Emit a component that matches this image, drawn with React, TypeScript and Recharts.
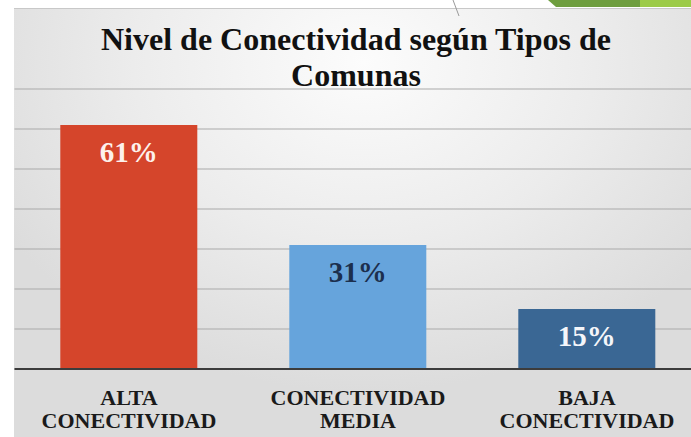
import { Bar, BarChart, CartesianGrid, Cell, LabelList, XAxis, YAxis } from 'recharts';

const categories = ['ALTA\nCONECTIVIDAD', 'CONECTIVIDAD\nMEDIA', 'BAJA\nCONECTIVIDAD'];
const values = [61, 31, 15];
const barColors = ['#d5452b', '#66a4dc', '#3a6794'];
const labelColors = ['#fdf1ec', '#1c2f4d', '#f4f6fa'];
const yTicks = [0, 10, 20, 30, 40, 50, 60, 70];

const data = categories.map((name, i) => ({ name, value: values[i] }));

const serif = '"Liberation Serif", serif';

function CategoryTick({ x, y, payload }: any) {
  const lines = String(payload.value).split('\n');
  return (
    <text
      x={x}
      y={y}
      textAnchor="middle"
      fontFamily={serif}
      fontWeight="bold"
      fontSize={22}
      fill="#1a1a1a"
    >
      {lines.map((line, i) => (
        <tspan key={i} x={x} y={y + 28 + i * 23}>
          {line}
        </tspan>
      ))}
    </text>
  );
}

function ValueLabel({ x, y, width, value, index }: any) {
  return (
    <text
      x={x + width / 2}
      y={y + 37}
      textAnchor="middle"
      fontFamily={serif}
      fontWeight="bold"
      fontSize={29}
      fill={labelColors[index]}
    >
      {value}%
    </text>
  );
}

export default function App() {
  return (
    <div
      style={{
        position: 'absolute',
        left: 0,
        top: 0,
        width: 691,
        height: 437,
        overflow: 'hidden',
        background: '#ffffff',
      }}
    >
      <div
        style={{
          position: 'absolute',
          left: 14,
          top: 8,
          width: 700,
          height: 440,
          borderTop: '1px solid #c8c8c8',
          background:
            'radial-gradient(ellipse 60% 75% at 50% 12%, #fcfcfc 0%, #ececec 55%, #dcdcdc 100%)',
        }}
      />
      <svg width={691} height={20} style={{ position: 'absolute', left: 0, top: 0 }}>
        <line x1={453} y1={0} x2={459} y2={16} stroke="#9a9a9a" strokeWidth={1} />
        <polygon points="548,0 640,0 640,7 556,7" fill="#6e9e3f" />
        <polygon points="640,0 691,0 691,7 640,7" fill="#9ccb48" />
      </svg>
      <div
        style={{
          position: 'absolute',
          left: 0,
          top: 21,
          width: 712,
          textAlign: 'center',
          fontFamily: serif,
          fontWeight: 'bold',
          fontSize: 32,
          lineHeight: '36px',
          color: '#111111',
        }}
      >
        Nivel de Conectividad según Tipos de
        <br />
        Comunas
      </div>
      <div style={{ position: 'absolute', left: 0, top: 0 }}>
        <BarChart
          width={705}
          height={437}
          data={data}
          margin={{ top: 89, right: 3.5, bottom: 0, left: 14.5 }}
          barCategoryGap="20%"
        >
          <CartesianGrid vertical={false} stroke="#a9a9a9" strokeWidth={1.2} />
          <XAxis
            dataKey="name"
            height={68}
            interval={0}
            tickLine={false}
            axisLine={{ stroke: '#3c3c3c', strokeWidth: 2 }}
            tick={<CategoryTick />}
          />
          <YAxis hide domain={[0, 70]} ticks={yTicks} />
          <Bar dataKey="value" isAnimationActive={false}>
            {data.map((d, i) => (
              <Cell key={d.name} fill={barColors[i]} />
            ))}
            <LabelList dataKey="value" content={<ValueLabel />} />
          </Bar>
        </BarChart>
      </div>
    </div>
  );
}
